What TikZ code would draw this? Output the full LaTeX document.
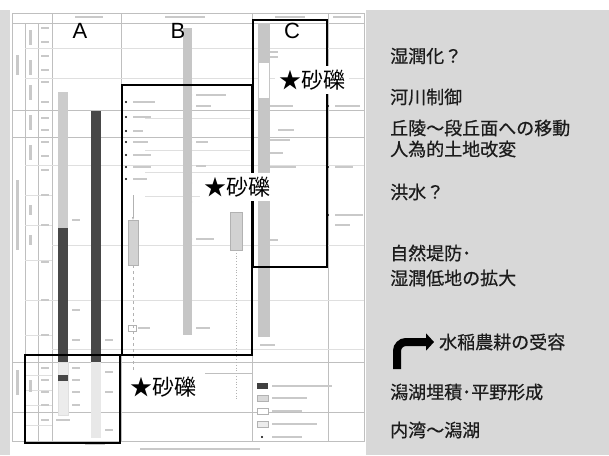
\documentclass[tikz,border=0pt]{standalone}
\usepackage{fontspec}
\setmainfont{Liberation Sans}
\newfontfamily\jpfont{Noto Sans CJK JP}
\newfontfamily\jpnote[FakeBold=0.6]{Noto Sans CJK JP}
\usetikzlibrary{arrows.meta}
\definecolor{panelgray}{HTML}{D8D8D8}
\definecolor{stripgray}{HTML}{DADADA}
\definecolor{inkgray}{HTML}{1C1C1C}
\begin{document}
\begin{tikzpicture}[x=1pt, y=-1pt,
    grid/.style={draw=gray!50, line width=0.5pt},
    gridthin/.style={draw=gray!25, line width=0.4pt},
    frame/.style={draw=black, line width=1.7pt},
    barlight/.style={fill=gray!40},
    bardark/.style={fill=black!72},
    barmid/.style={fill=gray!45},
    stubc/.style={fill=gray!42},
    letter/.style={font=\fontsize{22}{22}\selectfont, inner sep=0pt},
    gravel/.style={font=\jpfont\fontsize{22}{22}\selectfont, fill=white, inner sep=4pt, text=black},
    note/.style={font=\jpnote\fontsize{18}{22}\selectfont, anchor=west, inner sep=0pt, text=inkgray, align=left},
    bentarrow/.style={line width=8pt, rounded corners=9pt, -{Triangle[length=8pt, width=17pt]}}]
    % BACKGROUND
    \fill[white] (0,0) rectangle (609,455);
    \fill[stripgray] (0,10) rectangle (10,455);
    \fill[panelgray] (366,10) rectangle (609,455);
    \useasboundingbox (0,0) rectangle (609,455);

    % TABLE GRID
    \draw[grid] (12,13) rectangle (364,441);
    \draw[grid] (12,23) -- (364,23);
    \foreach \x in {25,38} \draw[grid] (\x,23) -- (\x,441);
    \foreach \x in {52,121,252,328} \draw[grid] (\x,13) -- (\x,441);
    \foreach \y in {110,137,362,412} \draw[grid] (12,\y) -- (364,\y);
    \foreach \y in {48,78,165,195,225,260,300,335,375,390,405,425} \draw[gridthin] (25,\y) -- (52,\y);
    \foreach \y in {48,78,165,245,300,349} \draw[gridthin] (52,\y) -- (364,\y);
    \foreach \y in {118,150,172,196} \draw[gridthin] (145,\y) -- (250,\y);

    % SMALL PRINT (illegible)
    \foreach \x/\y/\w in {75/17/28, 165/17/40, 275/17/30, 333/17/28,
        41/28/8, 41/42/8, 41/56/8, 41/70/8, 41/82/8, 41/102/8, 41/118/8, 41/130/8, 41/142/8,
        41/156/8, 41/170/8, 41/195/8, 41/225/8, 41/262/8, 41/300/8, 41/335/8, 41/368/8,
        41/380/8, 41/392/8, 41/405/8, 41/420/8,
        72/220/8, 72/310/8, 72/340/8, 72/368/8, 72/380/8, 72/392/8, 72/405/8,
        105/340/8, 105/372/8, 105/392/8, 105/430/8, 56/420/14, 85/444/20,
        133/102/22, 133/117/18, 133/131/10, 133/142/15, 133/155/18, 133/167/18, 133/179/14,
        196/95/30, 196/106/15, 196/142/12, 196/166/10, 196/239/18, 138/328/12, 196/328/14,
        268/52/10, 268/57/10, 268/106/25, 278/130/16, 268/140/22, 268/153/15, 268/167/28,
        268/240/10, 260/345/15, 335/106/25, 335/167/18, 335/215/28, 335/225/15, 140/449/120}
        \fill[stubc] (\x,\y-0.8) rectangle (\x+\w,\y+0.8);
    \foreach \x/\ya/\yb in {16/55/75, 16/180/250, 16/370/395, 29/30/45, 29/60/75, 29/85/100,
        29/115/130, 29/145/160, 29/205/215, 29/235/245, 29/380/392}
        \fill[stubc] (\x,\ya) rectangle (\x+2.5,\yb);
    \foreach \x/\y in {126/102, 126/117, 126/131, 126/142, 126/155, 126/167, 126/179,
        191/95, 191/106, 191/142, 191/166, 191/183, 191/202, 191/239,
        263/52, 263/57, 263/67, 263/106, 263/140, 263/153, 263/167, 263/240,
        328/106, 328/167, 328/215}
        \fill[black] (\x,\y) circle (1.1);

    % BARS A
    \fill[barlight] (58,92) rectangle (68,228);
    \fill[bardark] (58,228) rectangle (68,362);
    \fill[bardark] (91,111) rectangle (101,362);
    \draw[gridthin, fill=gray!15] (58,362) rectangle (68,415);
    \fill[bardark] (58,375) rectangle (68,381);
    \fill[gray!18] (91,362) rectangle (101,438);

    % BARS B
    \fill[barmid] (183,28) rectangle (192,335);
    \draw[gray!60, fill=gray!35] (128,220) rectangle (138,265);
    \draw[gray!60, -{Latex[length=3pt]}] (133,195) -- (133,220);
    \draw[gray!60, dashed] (133,265) -- (133,400);
    \draw[gray!60] (128,325) rectangle (136,331);
    \draw[gray!60, fill=gray!35] (230,212) rectangle (242,250);
    \draw[gray!60, dotted, line width=0.8pt] (236,250) -- (236,400);

    % BAR C
    \fill[barmid] (258,23) rectangle (270,337);
    \fill[white] (259,63) rectangle (269,98);

    % LEGEND
    \draw[grid] (205,373) -- (252,373);
    \fill[black!75] (257,383) rectangle (268,389);
    \draw[gray!60, fill=gray!30] (257,395) rectangle (268,401);
    \draw[gray!60, fill=white] (257,408) rectangle (268,414);
    \draw[gray!60, fill=gray!15] (257,421) rectangle (268,427);
    \fill[black] (262,437) circle (1.1);
    \foreach \y/\w in {386/60, 398/35, 411/30, 424/45, 437/30}
        \fill[stubc] (272,\y-0.8) rectangle (272+\w,\y+0.8);

    % FRAMES
    \draw[frame] (25,355) rectangle (120,443);
    \draw[frame] (122,85) rectangle (252,355);
    \draw[frame] (253,20) rectangle (327,267);

    % LABELS
    \node[letter] (labA) at (80,31) {A};
    \node[letter] (labB) at (178,31) {B};
    \node[letter] (labC) at (292,31) {C};
    \node[gravel] (gravC) at (312,80) {★砂礫};
    \node[gravel] (gravB) at (237,187) {★砂礫};
    \node[gravel] (gravA) at (163,387) {★砂礫};

    % RIGHT PANEL
    \node[note] (wet) at (390,56) {湿潤化？};
    \node[note] (river) at (390,97) {河川制御};
    \node[note] (move) at (390,128) {丘陵～段丘面への移動};
    \node[note] (land) at (390,149) {人為的土地改変};
    \node[note] (flood) at (390,192) {洪水？};
    \node[note] (levee) at (390,253) {自然堤防･};
    \node[note] (lowland) at (390,278) {湿潤低地の拡大};
    \node[note] (rice) at (439,342) {水稲農耕の受容};
    \node[note] (lagoon) at (390,392) {潟湖埋積･平野形成};
    \node[note] (bay) at (390,430) {内湾～潟湖};
    \coordinate (arrstart) at (397,369);
    \draw[bentarrow] (arrstart) |- ([xshift=-5pt]rice.west);
\end{tikzpicture}
\end{document}
